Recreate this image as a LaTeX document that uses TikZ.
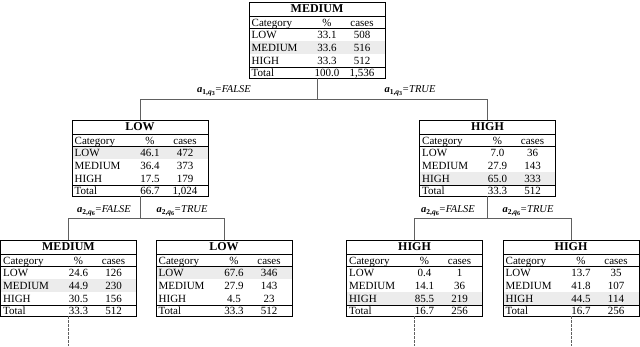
\documentclass[tikz,border=0pt]{standalone}
\usepackage{fontspec}
\setmainfont{Liberation Serif}
\usetikzlibrary{calc}
\definecolor{rowshade}{HTML}{ECECEC}
\definecolor{conncol}{HTML}{606060}
\tikzset{
  tbox/.style={draw=black, line width=0.8pt, minimum width=136pt, minimum height=76pt, inner sep=0pt, outer sep=0pt, anchor=north},
  ttl/.style={font=\fontsize{12}{13}\selectfont\bfseries, inner sep=0pt, text height=7.9pt, text depth=0pt},
  cell/.style={font=\fontsize{11}{12}\selectfont, inner sep=0pt, text height=7.3pt, text depth=0pt},
  lcell/.style={cell, anchor=west},
  septhick/.style={draw=black, line width=0.8pt},
  septhin/.style={draw=black, line width=0.45pt},
  conn/.style={draw=conncol, line width=0.6pt},
  dconn/.style={conn, dash pattern=on 2.5pt off 1.5pt},
  lab/.style={font=\fontsize{10.5}{11}\selectfont, inner sep=0pt},
}
\newcommand{\alab}[3]{\textbf{\textit{a}}\raisebox{-2.2pt}{\fontsize{7.5}{8}\selectfont\textbf{#1,\textit{q}}\raisebox{-1.2pt}{\fontsize{6}{6}\selectfont\textbf{#2}}}\textit{=#3}}
% #1 name, #2 x, #3 y(top), #4 title, #5 shaded row
\newcommand{\tbl}[5]{%
  \node[tbox] (#1) at (#2,#3) {};
  \fill[rowshade] ($(#1.north west)+(0.5,{13+13*#5})$) rectangle ($(#1.north east)+(-0.5,{26+13*#5})$);
  \node[ttl] (#1-t) at ($(#1.north)+(0,7)$) {#4};
  \draw[septhick] ($(#1.north west)+(0,14)$) -- ($(#1.north east)+(0,14)$);
  \draw[septhin] ($(#1.north west)+(0,26)$) -- ($(#1.north east)+(0,26)$);
  \draw[septhick] ($(#1.north west)+(0,65)$) -- ($(#1.north east)+(0,65)$);
  \node[lcell] (#1-h0) at ($(#1.north west)+(2.5,20.5)$) {Category};
  \node[cell] (#1-h1) at ($(#1.north)+(10,20.5)$) {\%};
  \node[cell] (#1-h2) at ($(#1.north)+(45,20.5)$) {cases};
}
% #1 name, #2..#9 values
\newcommand{\trows}[9]{%
  \node[lcell] (#1-a0) at ($(#1.north west)+(2.5,32.5)$) {LOW};
  \node[cell] (#1-a1) at ($(#1.north)+(10,32.5)$) {#2};
  \node[cell] (#1-a2) at ($(#1.north)+(45,32.5)$) {#3};
  \node[lcell] (#1-b0) at ($(#1.north west)+(2.5,45.5)$) {MEDIUM};
  \node[cell] (#1-b1) at ($(#1.north)+(10,45.5)$) {#4};
  \node[cell] (#1-b2) at ($(#1.north)+(45,45.5)$) {#5};
  \node[lcell] (#1-c0) at ($(#1.north west)+(2.5,58.5)$) {HIGH};
  \node[cell] (#1-c1) at ($(#1.north)+(10,58.5)$) {#6};
  \node[cell] (#1-c2) at ($(#1.north)+(45,58.5)$) {#7};
  \node[lcell] (#1-d0) at ($(#1.north west)+(2.5,70.5)$) {Total};
  \node[cell] (#1-d1) at ($(#1.north)+(10,70.5)$) {#8};
  \node[cell] (#1-d2) at ($(#1.north)+(45,70.5)$) {#9};
}
\begin{document}
\begin{tikzpicture}[x=1pt,y=-1pt]
\useasboundingbox (0,0) rectangle (640,346);
% boxes
\tbl{top}{317}{2}{MEDIUM}{2}
\trows{top}{33.1}{508}{33.6}{516}{33.3}{512}{100.0}{1,536}
\tbl{low}{140}{120}{LOW}{1}
\trows{low}{46.1}{472}{36.4}{373}{17.5}{179}{66.7}{1,024}
\tbl{high}{487.5}{120}{HIGH}{3}
\trows{high}{7.0}{36}{27.9}{143}{65.0}{333}{33.3}{512}
\tbl{ma}{68.5}{240}{MEDIUM}{2}
\trows{ma}{24.6}{126}{44.9}{230}{30.5}{156}{33.3}{512}
\tbl{lb}{224}{240}{LOW}{1}
\trows{lb}{67.6}{346}{27.9}{143}{4.5}{23}{33.3}{512}
\tbl{hc}{414.5}{240}{HIGH}{3}
\trows{hc}{0.4}{1}{14.1}{36}{85.5}{219}{16.7}{256}
\tbl{hd}{571}{240}{HIGH}{3}
\trows{hd}{13.7}{35}{41.8}{107}{44.5}{114}{16.7}{256}
% connectors level 1
\coordinate (j1) at ($(top.south)+(0,21.5)$);
\draw[conn] (top.south) -- (j1);
\draw[conn] (low.north) |- (j1) -| (high.north);
\node[lab] (l1f) at (224,91) {\alab{1}{3}{FALSE}};
\node[lab] (l1t) at (410,91) {\alab{1}{3}{TRUE}};
% connectors level 2 left
\coordinate (j2) at ($(low.south)+(0,22.5)$);
\draw[conn] (low.south) -- (j2);
\draw[conn] (ma.north) |- (j2) -| (lb.north);
\node[lab] (l2f) at (104,211) {\alab{2}{6}{FALSE}};
\node[lab] (l2t) at (182,211) {\alab{2}{6}{TRUE}};
% connectors level 2 right
\coordinate (j3) at ($(high.south)+(0,22.5)$);
\draw[conn] (high.south) -- (j3);
\draw[conn] (hc.north) |- (j3) -| (hd.north);
\node[lab] (l3f) at (448,211) {\alab{2}{6}{FALSE}};
\node[lab] (l3t) at (528,211) {\alab{2}{6}{TRUE}};
% dashed continuations
\coordinate (ea) at ($(ma.south)+(0,30)$);
\coordinate (ec) at ($(hc.south)+(0,30)$);
\coordinate (ed) at ($(hd.south)+(0,30)$);
\draw[dconn] (ma.south) -- (ea);
\draw[dconn] (hc.south) -- (ec);
\draw[dconn] (hd.south) -- (ed);
\end{tikzpicture}
\end{document}
